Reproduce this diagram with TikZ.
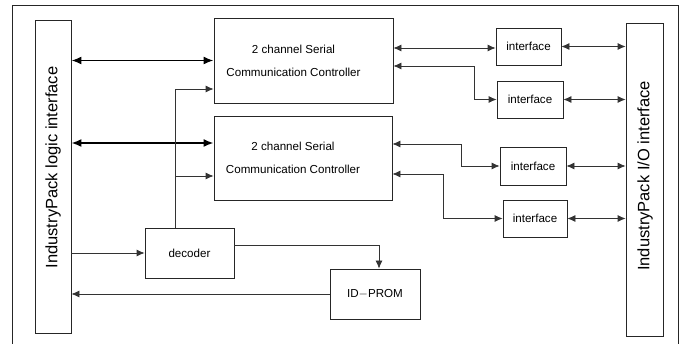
\documentclass[tikz,border=0pt]{standalone}
\usepackage{fontspec}
\setmainfont{Liberation Sans}
\usetikzlibrary{arrows.meta}

\tikzset{
  block/.style={draw=black!85, line width=0.8pt, inner sep=0pt},
  sig/.style={draw=black!80, line width=0.8pt, -{Latex[length=8pt,width=7pt]}},
  sigboth/.style={sig, {Latex[length=8pt,width=7pt]}-{Latex[length=8pt,width=7pt]}},
  bus/.style={draw=black, line width=1.8pt, {Latex[length=10pt,width=8pt]}-{Latex[length=10pt,width=8pt]}},
  small/.style={font=\fontsize{11.6}{13}\selectfont},
  big/.style={font=\fontsize{16.5}{18}\selectfont, rotate=90}
}

\begin{document}
\begin{tikzpicture}[x=1pt,y=-1pt]
\useasboundingbox (0,0) rectangle (686,344);
\fill[white] (0,0) rectangle (686,344);
\draw[black!85, line width=0.8pt] (12,5) rectangle (678,348); % outer frame

% IndustryPack side boxes
\node[block, minimum width=36pt, minimum height=313pt] (logic) at (53,176.5) {};
\node[big] (logictext) at (53,167.5) {IndustryPack logic interface};
\node[block, minimum width=37pt, minimum height=313pt] (io) at (644.5,179.5) {};
\node[big] (iotext) at (645,176) {IndustryPack I/O interface};

% controllers
\node[block, minimum width=179pt, minimum height=85pt] (scca) at (303.5,60.5) {};
\node[small, align=center, xshift=-10pt] (sccatext) at (scca) {2 channel Serial\\[10pt]Communication Controller};
\node[block, minimum width=178pt, minimum height=84pt] (sccb) at (303,158) {};
\node[small, align=center, xshift=-10pt] (sccbtext) at (sccb) {2 channel Serial\\[10pt]Communication Controller};

% interfaces
\node[block, small, minimum width=65pt, minimum height=37pt] (ifa) at (528.5,46.5) {interface};
\node[block, small, minimum width=66pt, minimum height=37pt] (ifb) at (530,99.5) {interface};
\node[block, small, minimum width=66pt, minimum height=38pt] (ifc) at (533,166) {interface};
\node[block, small, minimum width=64pt, minimum height=37pt] (ifd) at (535,218.5) {interface};

% decoder and prom
\node[block, small, minimum width=89pt, minimum height=50pt] (dec) at (189.5,253) {decoder};
\node[block, small, minimum width=90pt, minimum height=50pt] (prom) at (375,294) {ID$-$PROM};

% buses from the logic interface
\draw[bus] (logic.east |- scca.west) -- (scca.west);
\coordinate (busb) at ([yshift=15pt]sccb.west);
\draw[bus] (logic.east |- busb) -- (busb);

% decoder lines
\coordinate (tap) at ([xshift=-14.5pt]dec.north);
\coordinate (sela) at ([yshift=-28.5pt]scca.west);
\coordinate (selb) at ([yshift=-18pt]sccb.west);
\draw[sig] (tap) |- (sela);
\draw[sig] (tap |- selb) -- (selb);
\draw[sig] (logic.east |- dec.west) -- (dec.west);
\draw[sig] ([yshift=8pt]dec.east) -| ([xshift=4pt]prom.north);
\draw[sig] (prom.west) -- (logic.east |- prom.west);

% controllers to interfaces
\coordinate (pa) at ([yshift=12.5pt]scca.east);
\coordinate (pb) at ([yshift=-5.5pt]scca.east);
\coordinate (pc) at ([yshift=14pt]sccb.east);
\coordinate (pd) at ([yshift=-16pt]sccb.east);
\draw[sigboth] (pa) -- (pa -| ifa.west);
\draw[sigboth] (pb) -- ++(81,0) |- (ifb.west);
\draw[sigboth] (pc) -- ++(69,0) |- (ifc.west);
\draw[sigboth] (pd) -- ++(51,0) |- (ifd.west);

% interfaces to the I/O side
\foreach \i in {ifa,ifb,ifc,ifd}
  \draw[sigboth] (\i.east) -- (io.west |- \i.east);

\end{tikzpicture}
\end{document}
